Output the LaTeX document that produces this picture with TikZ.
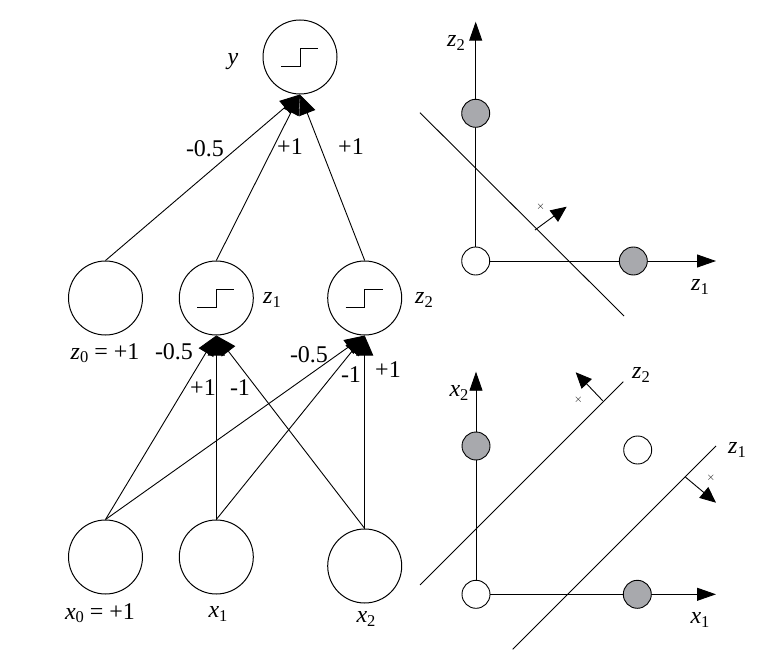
\documentclass[tikz,border=0pt]{standalone}
\usepackage{fontspec}
\setmainfont{Liberation Serif}
\usetikzlibrary{arrows.meta}
\definecolor{dotgray}{RGB}{168,169,173}
\newcommand\vlab[2]{\textit{#1}\raisebox{-0.14em}{\fontsize{16.5}{16.5}\selectfont #2}}
\begin{document}
\begin{tikzpicture}[x=1pt,y=-1pt,
  neuron/.style={circle,draw,line width=1pt,minimum size=74pt,inner sep=0pt},
  wt/.style={font=\fontsize{24}{24}\selectfont,inner sep=0pt},
  lab/.style={font=\fontsize{24}{24}\selectfont,inner sep=0pt},
  edge/.style={line width=0.9pt,-{Triangle[length=20pt,width=17pt]}},
  axis/.style={line width=0.9pt,-{Triangle[length=19pt,width=13pt]}},
  normal/.style={line width=0.9pt,-{Triangle[length=16pt,width=14pt]}},
  sep/.style={line width=0.9pt},
  dot/.style={circle,draw,line width=0.9pt,minimum size=28pt,inner sep=0pt},
  tiny/.style={font=\fontsize{11}{11}\selectfont,inner sep=0pt}
]
\useasboundingbox (0,0) rectangle (777,666);
% network nodes
\node[neuron] (y) at (300,57) {};
\node[neuron] (z0) at (105.5,298) {};
\node[neuron] (z1) at (216.3,298) {};
\node[neuron] (z2) at (364.7,298) {};
\node[neuron] (x0) at (105.5,557) {};
\node[neuron] (x1) at (216.3,557) {};
\node[neuron] (x2) at (364.7,566) {};
% step functions
\foreach \n in {y,z1,z2}{
  \draw[line width=0.9pt] (\n.center) ++(-19,9) -- ++(19,0) -- ++(0,-17.5) -- ++(18,0);
}
% node labels
\node[lab] (ly) at (233,62) {\textit{y}};
\node[lab] (lz1) at (272,300) {\vlab{z}{1}};
\node[lab] (lz2) at (424,300) {\vlab{z}{2}};
\node[lab] (lz0) at (105,353) {\vlab{z}{0} = +1};
\node[lab] (lx0) at (100,613) {\vlab{x}{0} = +1};
\node[lab] (lx1) at (218,614) {\vlab{x}{1}};
\node[lab] (lx2) at (366,619) {\vlab{x}{2}};
% edges to y
\draw[edge] (z0.north) -- (y.south);
\draw[edge] (z1.north) -- (y.south);
\draw[edge] (z2.north) -- (y.south);
% edges to z1, z2
\draw[edge] (x0.north) -- (z1.south);
\draw[edge] (x1.north) -- (z1.south);
\draw[edge] (x2.north) -- (z1.south);
\draw[edge] (x0.north) -- (z2.south);
\draw[edge] (x1.north) -- (z2.south);
\draw[edge] (x2.north) -- (z2.south);
% weights
\node[wt] (w1) at (205,149) {-0.5};
\node[wt] (w2) at (290,147) {+1};
\node[wt] (w3) at (351,147) {+1};
\node[wt] (w4) at (174,352) {-0.5};
\node[wt] (w5) at (203,388) {+1};
\node[wt] (w6) at (240,388) {-1};
\node[wt] (w7) at (309,355) {-0.5};
\node[wt] (w8) at (351,375) {-1};
\node[wt] (w9) at (388,370) {+1};
% top right plot
\coordinate (ao) at (475.7,261);
\coordinate (az2) at (475.7,21.7);
\coordinate (az1) at (716,261);
\draw[axis] (ao) -- (az2);
\draw[axis] (ao) -- (az1);
\node[dot,fill=white] (o1) at (ao) {};
\node[dot,fill=dotgray] (g1) at (475.7,113.3) {};
\node[dot,fill=dotgray] (g2) at (633.3,261) {};
\node[lab] (tz2) at (456,43) {\vlab{z}{2}};
\node[lab] (tz1) at (700,287) {\vlab{z}{1}};
\coordinate (l1a) at (420,112.7);
\coordinate (l1b) at (624,316);
\draw[sep] (l1a) -- (l1b);
\coordinate (n1a) at (535,230);
\coordinate (n1b) at (566.7,206.7);
\draw[normal] (n1a) -- (n1b);
\node[tiny] (c1) at (540.7,207) {$\times$};
% bottom right plot
\coordinate (bo) at (476,594.3);
\coordinate (bx2) at (476,371.7);
\coordinate (bx1) at (716,594.3);
\draw[axis] (bo) -- (bx2);
\draw[axis] (bo) -- (bx1);
\node[dot,fill=white] (o2) at (bo) {};
\node[dot,fill=dotgray] (g3) at (476,446) {};
\node[dot,fill=dotgray] (g4) at (637.3,594.3) {};
\node[dot,fill=white] (w10) at (637.7,450) {};
\node[lab] (bx2l) at (459,393) {\vlab{x}{2}};
\node[lab] (bx1l) at (700,620) {\vlab{x}{1}};
\node[lab] (bz2l) at (641,375) {\vlab{z}{2}};
\node[lab] (bz1l) at (737,450) {\vlab{z}{1}};
\coordinate (l2a) at (420,585);
\coordinate (l2b) at (623.3,381.7);
\draw[sep] (l2a) -- (l2b);
\coordinate (l3a) at (512.7,649.3);
\coordinate (l3b) at (716,446);
\draw[sep] (l3a) -- (l3b);
\coordinate (n2a) at (602.7,400.7);
\coordinate (n2b) at (575.7,372.3);
\draw[normal] (n2a) -- (n2b);
\node[tiny] (c2) at (578.3,399.3) {$\times$};
\coordinate (n3a) at (685,476.7);
\coordinate (n3b) at (716,502.7);
\draw[normal] (n3a) -- (n3b);
\node[tiny] (c3) at (711,477.3) {$\times$};
\end{tikzpicture}
\end{document}
